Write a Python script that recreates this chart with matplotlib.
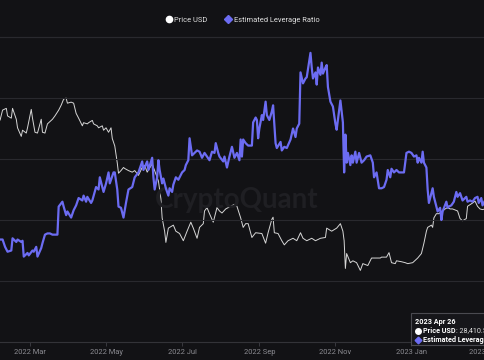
import numpy as np
import pandas as pd
import matplotlib
matplotlib.use("Agg")
import matplotlib.pyplot as plt
import matplotlib.dates as mdates
from matplotlib.lines import Line2D

plt.rcParams["font.family"] = ["Roboto", "DejaVu Sans"]

## Price USD ##
price_dates = [
    "2022-02-05", "2022-02-07", "2022-02-10", "2022-02-11", "2022-02-14", "2022-02-15",
    "2022-02-18", "2022-02-19", "2022-02-22", "2022-02-23", "2022-02-26", "2022-02-27",
    "2022-03-02", "2022-03-03", "2022-03-05", "2022-03-07", "2022-03-10", "2022-03-11",
    "2022-03-13", "2022-03-15", "2022-03-19", "2022-03-21", "2022-03-24", "2022-03-26",
    "2022-03-28", "2022-03-30", "2022-03-31", "2022-04-03", "2022-04-05", "2022-04-07",
    "2022-04-09", "2022-04-12", "2022-04-13", "2022-04-16", "2022-04-17", "2022-04-20",
    "2022-04-21", "2022-04-24", "2022-04-25", "2022-04-28", "2022-04-29", "2022-05-01",
    "2022-05-03", "2022-05-05", "2022-05-06", "2022-05-08", "2022-05-10", "2022-05-11",
    "2022-05-13", "2022-05-15", "2022-05-16", "2022-05-19", "2022-05-22", "2022-05-24",
    "2022-05-27", "2022-05-30", "2022-06-01", "2022-06-03", "2022-06-07", "2022-06-09",
    "2022-06-12", "2022-06-14", "2022-06-15", "2022-06-17", "2022-06-18", "2022-06-20",
    "2022-06-24", "2022-06-26", "2022-06-29", "2022-07-02", "2022-07-05", "2022-07-08",
    "2022-07-10", "2022-07-13", "2022-07-15", "2022-07-18", "2022-07-19", "2022-07-21",
    "2022-07-23", "2022-07-26", "2022-07-29", "2022-07-31", "2022-08-02", "2022-08-05",
    "2022-08-07", "2022-08-12", "2022-08-14", "2022-08-17", "2022-08-19", "2022-08-21",
    "2022-08-23", "2022-08-26", "2022-08-29", "2022-09-03", "2022-09-06", "2022-09-08",
    "2022-09-11", "2022-09-12", "2022-09-13", "2022-09-16", "2022-09-19", "2022-09-21",
    "2022-09-24", "2022-09-28", "2022-10-01", "2022-10-04", "2022-10-06", "2022-10-09",
    "2022-10-13", "2022-10-16", "2022-10-20", "2022-10-24", "2022-10-25", "2022-10-29",
    "2022-11-02", "2022-11-05", "2022-11-07", "2022-11-08", "2022-11-09", "2022-11-10",
    "2022-11-13", "2022-11-15", "2022-11-18", "2022-11-21", "2022-11-23", "2022-11-27",
    "2022-11-30", "2022-12-04", "2022-12-07", "2022-12-08", "2022-12-12", "2022-12-14",
    "2022-12-16", "2022-12-19", "2022-12-20", "2022-12-24", "2022-12-27", "2022-12-29",
    "2023-01-02", "2023-01-06", "2023-01-09", "2023-01-11", "2023-01-13", "2023-01-14",
    "2023-01-17", "2023-01-18", "2023-01-19", "2023-01-21", "2023-01-23", "2023-01-26",
    "2023-01-28", "2023-01-30", "2023-02-01", "2023-02-03", "2023-02-07", "2023-02-09",
    "2023-02-11", "2023-02-14", "2023-02-15", "2023-02-19", "2023-02-21", "2023-02-23",
    "2023-02-25", "2023-02-27", "2023-03-01",
]
price_usd = [
    41300, 44000, 44500, 42400, 41800, 44500,
    41500, 39300, 37200, 38700, 38000, 39300,
    44200, 41800, 38200, 38000, 41500, 38200,
    38000, 40300, 41500, 42400, 44000, 45400,
    47200, 47500, 46000, 46300, 46000, 43100,
    41800, 39800, 40600, 40300, 40600, 41200,
    40300, 39800, 39300, 39800, 38700, 39300,
    38200, 39300, 36700, 35000, 31400, 29400,
    29900, 30500, 30300, 29900, 29600, 29900,
    29000, 30500, 30900, 29600, 31200, 29900,
    28000, 25000, 22100, 20300, 18900, 20700,
    21100, 20300, 20000, 19100, 20300, 21500,
    20700, 19400, 20800, 21300, 23100, 23600,
    22700, 21500, 23600, 23100, 22800, 23400,
    23600, 24100, 23800, 22100, 20800, 21300,
    21300, 19500, 20100, 20000, 18800, 20100,
    21900, 22200, 20100, 20000, 19100, 18600,
    19100, 19400, 19100, 20100, 19400, 19100,
    19400, 19100, 19400, 19500, 20700, 20300,
    20700, 21300, 20300, 19100, 16000, 17600,
    16600, 16800, 16600, 15800, 16500, 16300,
    17100, 17100, 17100, 17200, 17200, 17700,
    16600, 16500, 16800, 16700, 16600, 16500,
    16600, 17100, 17600, 18800, 20300, 20800,
    21100, 20800, 22100, 22700, 22700, 23100,
    23400, 23600, 23400, 23400, 23100, 22000,
    21700, 22000, 23800, 24300, 24600, 23800,
    23400, 23300, 23400,
]

## Estimated Leverage Ratio ##
lev_dates = [
    "2022-02-05", "2022-02-07", "2022-02-09", "2022-02-11", "2022-02-14", "2022-02-15",
    "2022-02-18", "2022-02-19", "2022-02-22", "2022-02-23", "2022-02-24", "2022-02-27",
    "2022-02-28", "2022-03-03", "2022-03-04", "2022-03-06", "2022-03-07", "2022-03-10",
    "2022-03-11", "2022-03-13", "2022-03-15", "2022-03-17", "2022-03-19", "2022-03-23",
    "2022-03-24", "2022-03-27", "2022-03-28", "2022-03-30", "2022-03-31", "2022-04-03",
    "2022-04-05", "2022-04-07", "2022-04-09", "2022-04-12", "2022-04-13", "2022-04-15",
    "2022-04-16", "2022-04-19", "2022-04-20", "2022-04-23", "2022-04-25", "2022-04-26",
    "2022-04-28", "2022-04-29", "2022-05-01", "2022-05-03", "2022-05-04", "2022-05-07",
    "2022-05-08", "2022-05-10", "2022-05-11", "2022-05-13", "2022-05-15", "2022-05-17",
    "2022-05-19", "2022-05-22", "2022-05-24", "2022-05-27", "2022-05-30", "2022-05-31",
    "2022-06-03", "2022-06-04", "2022-06-07", "2022-06-08", "2022-06-09", "2022-06-11",
    "2022-06-12", "2022-06-13", "2022-06-15", "2022-06-16", "2022-06-18", "2022-06-20",
    "2022-06-21", "2022-06-23", "2022-06-24", "2022-06-26", "2022-06-28", "2022-07-01",
    "2022-07-03", "2022-07-04", "2022-07-06", "2022-07-07", "2022-07-09", "2022-07-11",
    "2022-07-13", "2022-07-15", "2022-07-17", "2022-07-19", "2022-07-21", "2022-07-23",
    "2022-07-25", "2022-07-27", "2022-07-28", "2022-07-30", "2022-07-31", "2022-08-03",
    "2022-08-04", "2022-08-06", "2022-08-08", "2022-08-10", "2022-08-12", "2022-08-14",
    "2022-08-16", "2022-08-17", "2022-08-18", "2022-08-19", "2022-08-21", "2022-08-23",
    "2022-08-26", "2022-08-27", "2022-08-29", "2022-08-30", "2022-08-31", "2022-09-01",
    "2022-09-03", "2022-09-04", "2022-09-06", "2022-09-07", "2022-09-09", "2022-09-11",
    "2022-09-12", "2022-09-14", "2022-09-15", "2022-09-18", "2022-09-19", "2022-09-21",
    "2022-09-23", "2022-09-26", "2022-09-28", "2022-09-30", "2022-10-01", "2022-10-03",
    "2022-10-04", "2022-10-06", "2022-10-08", "2022-10-09", "2022-10-11", "2022-10-12",
    "2022-10-13", "2022-10-14", "2022-10-16", "2022-10-17", "2022-10-18", "2022-10-20",
    "2022-10-21", "2022-10-22", "2022-10-24", "2022-10-25", "2022-10-26", "2022-10-28",
    "2022-10-30", "2022-11-01", "2022-11-02", "2022-11-03", "2022-11-05", "2022-11-07",
    "2022-11-08", "2022-11-09", "2022-11-10", "2022-11-11", "2022-11-13", "2022-11-14",
    "2022-11-15", "2022-11-17", "2022-11-18", "2022-11-20", "2022-11-22", "2022-11-24",
    "2022-11-26", "2022-11-29", "2022-12-01", "2022-12-02", "2022-12-04", "2022-12-06",
    "2022-12-08", "2022-12-10", "2022-12-12", "2022-12-13", "2022-12-15", "2022-12-16",
    "2022-12-18", "2022-12-20", "2022-12-22", "2022-12-24", "2022-12-26", "2022-12-28",
    "2022-12-30", "2023-01-01", "2023-01-03", "2023-01-05", "2023-01-06", "2023-01-07",
    "2023-01-09", "2023-01-10", "2023-01-11", "2023-01-13", "2023-01-14", "2023-01-15",
    "2023-01-17", "2023-01-18", "2023-01-19", "2023-01-21", "2023-01-22", "2023-01-24",
    "2023-01-25", "2023-01-26", "2023-01-29", "2023-01-30", "2023-01-31", "2023-02-02",
    "2023-02-04", "2023-02-06", "2023-02-07", "2023-02-09", "2023-02-11", "2023-02-13",
    "2023-02-14", "2023-02-15", "2023-02-17", "2023-02-19", "2023-02-21", "2023-02-23",
    "2023-02-24", "2023-02-26", "2023-02-27", "2023-03-01",
]
leverage = [
    0.234, 0.234, 0.228, 0.224, 0.225, 0.235,
    0.232, 0.234, 0.232, 0.233, 0.220, 0.223,
    0.221, 0.225, 0.224, 0.228, 0.220, 0.227,
    0.231, 0.238, 0.239, 0.239, 0.238, 0.238,
    0.261, 0.265, 0.261, 0.254, 0.257, 0.252,
    0.258, 0.262, 0.268, 0.266, 0.270, 0.265,
    0.269, 0.264, 0.266, 0.277, 0.275, 0.285,
    0.277, 0.273, 0.280, 0.289, 0.280, 0.289,
    0.289, 0.275, 0.261, 0.260, 0.252, 0.264,
    0.275, 0.277, 0.285, 0.289, 0.298, 0.291,
    0.298, 0.291, 0.301, 0.285, 0.275, 0.285,
    0.299, 0.291, 0.280, 0.284, 0.276, 0.270,
    0.276, 0.273, 0.279, 0.285, 0.283, 0.289,
    0.291, 0.295, 0.299, 0.317, 0.303, 0.305,
    0.307, 0.306, 0.301, 0.305, 0.302, 0.299,
    0.306, 0.305, 0.313, 0.305, 0.302, 0.298,
    0.302, 0.293, 0.302, 0.310, 0.301, 0.305,
    0.299, 0.316, 0.302, 0.316, 0.313, 0.311,
    0.311, 0.330, 0.334, 0.332, 0.317, 0.325,
    0.336, 0.332, 0.347, 0.336, 0.332, 0.339,
    0.344, 0.313, 0.309, 0.314, 0.307, 0.310,
    0.309, 0.316, 0.325, 0.318, 0.325, 0.329,
    0.371, 0.362, 0.366, 0.367, 0.380, 0.387,
    0.375, 0.366, 0.371, 0.361, 0.375, 0.369,
    0.379, 0.370, 0.375, 0.377, 0.359, 0.347,
    0.343, 0.329, 0.324, 0.332, 0.348, 0.330,
    0.289, 0.320, 0.297, 0.305, 0.295, 0.303,
    0.297, 0.306, 0.297, 0.305, 0.297, 0.299,
    0.302, 0.303, 0.297, 0.285, 0.289, 0.276,
    0.276, 0.277, 0.283, 0.291, 0.285, 0.292,
    0.289, 0.291, 0.289, 0.289, 0.289, 0.305,
    0.306, 0.305, 0.302, 0.303, 0.297, 0.301,
    0.297, 0.306, 0.297, 0.293, 0.275, 0.264,
    0.272, 0.276, 0.269, 0.261, 0.257, 0.260,
    0.250, 0.257, 0.265, 0.260, 0.261, 0.262,
    0.265, 0.273, 0.269, 0.272, 0.266, 0.268,
    0.269, 0.265, 0.266, 0.265, 0.268, 0.269,
    0.264, 0.268, 0.262, 0.266,
]

tick_dates = ["2022-03-01", "2022-05-01", "2022-07-01", "2022-09-01",
              "2022-11-01", "2023-01-01", "2023-03-01"]
tick_labels = ["2022 Mar", "2022 May", "2022 Jul", "2022 Sep",
               "2022 Nov", "2023 Jan", "2023 Mar"]

BG = "#121215"
GRID = "#29292e"
PURPLE = "#6c6cf2"
PRICE_C = "#d6d6d6"

fig = plt.figure(figsize=(4.85, 3.6), dpi=100, facecolor=BG)
ax = fig.add_axes([0.0, 0.05, 1.0, 0.8472])   # leverage axis (with grid)
ax2 = ax.twinx()                               # price axis (log)
ax.set_zorder(ax2.get_zorder() + 1)
ax.patch.set_visible(False)
ax2.set_facecolor(BG)

ax2.plot(pd.to_datetime(price_dates), price_usd, color=PRICE_C, lw=0.7)
ax2.set_yscale("log")
ax2.set_ylim(10000, 70200)
ax2.set_yticks([])
ax2.minorticks_off()
ax2.yaxis.set_visible(False)

ax.plot(pd.to_datetime(lev_dates), leverage, color=PURPLE, lw=1.6)
ax.set_ylim(0.15, 0.40)
ax.set_yticks([0.20, 0.25, 0.30, 0.35])
ax.grid(axis="y", color=GRID, lw=0.8)
ax.tick_params(axis="y", left=False, labelleft=False)

x0 = mdates.date2num(pd.Timestamp("2022-03-01")) - 30 / 1.2466
x1 = mdates.date2num(pd.Timestamp("2023-03-01"))
ax.set_xlim(x0, x1)
ax.set_xticks(pd.to_datetime(tick_dates))
ax.set_xticklabels(tick_labels)
ax.tick_params(axis="x", colors="#3a3a40", labelcolor="#8c8c92",
               labelsize=5.4, length=3, width=0.7, pad=2)

for a in (ax, ax2):
    for s in ("left", "right"):
        a.spines[s].set_visible(False)
    a.spines["top"].set_color(GRID)
    a.spines["bottom"].set_color("#333338")

# watermark
fig.text(0.489, 0.422, "CryptoQuant", color="#1f1f23", fontsize=20,
         family="Lato", weight="bold", ha="center", va="baseline", zorder=0)

# legend
handles = [
    Line2D([], [], ls="none", marker="o", ms=4.5, mfc="white", mec="white"),
    Line2D([], [], ls="none", marker="D", ms=3.6, mfc=PURPLE, mec=PURPLE),
]
fig.legend(handles, ["Price USD", "Estimated Leverage Ratio"], loc="center",
           bbox_to_anchor=(0.5, 1 - 20 / 360), ncol=2, frameon=False,
           fontsize=5.4, labelcolor="#e0e0e0", handlelength=0.8,
           handletextpad=0.3, columnspacing=2.4)

# tooltip box (bottom right)
FS = 5.2
box = plt.Rectangle((411 / 485, 1 - 345 / 360), 0.2, 32 / 360,
                    transform=fig.transFigure, facecolor="#16161a",
                    edgecolor="#4a4a50", lw=0.8, zorder=10)
fig.patches.append(box)
fig.text(415 / 485, 1 - 322 / 360, "2023 Apr 26", color="white", fontsize=FS,
         weight="bold", va="center", zorder=11)
fig.lines.append(Line2D([418 / 485], [1 - 330.5 / 360], marker="o", ms=4,
                        color="white", transform=fig.transFigure, zorder=11))
t1 = fig.text(423 / 485, 1 - 331 / 360, "Price USD", color="white", fontsize=FS,
              weight="bold", va="center", zorder=11)
t2 = fig.text(0, 1 - 331 / 360, ": 28,410.53", color="#e0e0e0", fontsize=FS,
              va="center", zorder=11)
fig.lines.append(Line2D([418 / 485], [1 - 339.5 / 360], marker="D", ms=3.4,
                        color=PURPLE, transform=fig.transFigure, zorder=11))
fig.text(423 / 485, 1 - 340 / 360, "Estimated Leverage Ratio", color="white",
         fontsize=FS, weight="bold", va="center", zorder=11)

# place the value text right after the bold label
fig.canvas.draw()
bb = t1.get_window_extent().transformed(fig.transFigure.inverted())
t2.set_x(bb.x1)

fig.savefig("out.png", dpi=100, facecolor=BG)
